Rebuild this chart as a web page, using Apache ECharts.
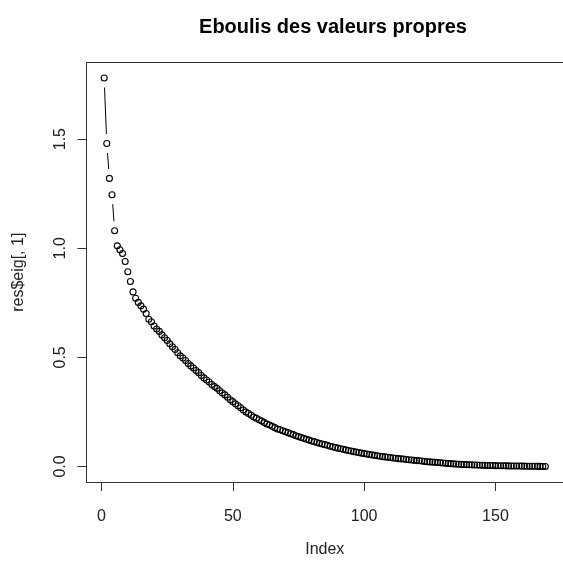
<!DOCTYPE html>
<html>
<head>
<meta charset="utf-8">
<script src="https://cdn.jsdelivr.net/npm/echarts@6/dist/echarts.min.js"></script>
<style>html,body{margin:0;padding:0;background:#fff;}#c{width:563px;height:563px;}</style>
</head>
<body>
<div id="c"></div>
<script>
// Eigenvalues (res$eig[, 1]), in index order 1..169
const eigenValues = [
  1.780, 1.480, 1.320, 1.245, 1.080, 1.011, 0.993, 0.976, 0.939, 0.892,
  0.848, 0.800, 0.771, 0.752, 0.736, 0.721, 0.701, 0.675, 0.663, 0.644,
  0.630, 0.619, 0.603, 0.590, 0.577, 0.562, 0.549, 0.536, 0.521, 0.507,
  0.497, 0.486, 0.472, 0.461, 0.451, 0.440, 0.430, 0.417, 0.406, 0.396,
  0.387, 0.376, 0.366, 0.358, 0.347, 0.337, 0.328, 0.317, 0.306, 0.297,
  0.287, 0.278, 0.269, 0.259, 0.250, 0.243, 0.235, 0.227, 0.221, 0.214,
  0.208, 0.201, 0.195, 0.190, 0.184, 0.178, 0.172, 0.168, 0.164, 0.159,
  0.155, 0.150, 0.146, 0.141, 0.137, 0.133, 0.129, 0.125, 0.121, 0.117,
  0.114, 0.110, 0.106, 0.103, 0.100, 0.097, 0.093, 0.090, 0.087, 0.084,
  0.081, 0.079, 0.076, 0.073, 0.071, 0.068, 0.066, 0.064, 0.061, 0.059,
  0.057, 0.055, 0.053, 0.051, 0.049, 0.047, 0.045, 0.044, 0.042, 0.041,
  0.039, 0.038, 0.036, 0.035, 0.034, 0.032, 0.031, 0.030, 0.028, 0.027,
  0.026, 0.025, 0.023, 0.022, 0.021, 0.020, 0.019, 0.018, 0.017, 0.016,
  0.015, 0.014, 0.013, 0.012, 0.011, 0.010, 0.0095, 0.009, 0.0085, 0.008,
  0.0075, 0.007, 0.0065, 0.006, 0.0056, 0.0052, 0.0048, 0.0045, 0.0042, 0.0039,
  0.0036, 0.0033, 0.0031, 0.0029, 0.0027, 0.0025, 0.0023, 0.0021, 0.0019, 0.0017,
  0.0015, 0.0013, 0.0011, 0.0009, 0.0008, 0.0006, 0.0004, 0.0002, 0.0001
];
const xTicks = [0, 50, 100, 150];
const yTicks = [0.0, 0.5, 1.0, 1.5];
const yTickLabels = ['0.0', '0.5', '1.0', '1.5'];
const titleText = 'Eboulis des valeurs propres';
const xName = 'Index';
const yName = 'res$eig[, 1]';

const n = eigenValues.length;
const points = eigenValues.map((v, i) => [i + 1, v]);
const segs = [];
for (let i = 0; i < n - 1; i++) segs.push([i + 1, eigenValues[i], i + 2, eigenValues[i + 1]]);

// R-style axis ranges (4% extension)
const xr = n - 1;
const xMin = 1 - 0.04 * xr, xMax = n + 0.04 * xr;
const yLo = Math.min(...eigenValues), yHi = Math.max(...eigenValues);
const yr = yHi - yLo;
const yMin = yLo - 0.04 * yr, yMax = yHi + 0.04 * yr;

const GAP = 9.5;
const FONT = 'Liberation Sans, Arial, sans-serif';
const BOX = '#333';
const chart = echarts.init(document.getElementById('c'), null, {renderer: 'canvas'});
chart.setOption({
  animation: false,
  backgroundColor: '#fff',
  title: {
    text: titleText, left: 328, top: 12, textAlign: 'center',
    textStyle: {fontFamily: FONT, fontSize: 20, fontWeight: 'bold', color: '#000'}
  },
  grid: {left: 86.5, top: 62.5, width: 483, height: 421.5, show: false},
  xAxis: [{
    type: 'value', min: xMin, max: xMax, position: 'bottom',
    name: xName, nameLocation: 'middle', nameGap: 60,
    nameTextStyle: {fontFamily: FONT, fontSize: 16, color: '#222'},
    axisLine: {show: true, onZero: false, lineStyle: {color: BOX, width: 1}},
    splitLine: {show: false},
    axisTick: {show: true, inside: false, length: 9, customValues: xTicks, lineStyle: {color: BOX, width: 1}},
    axisLabel: {customValues: xTicks, margin: 27, fontFamily: FONT, fontSize: 16, color: '#222'}
  }, {
    type: 'value', min: xMin, max: xMax, position: 'top',
    axisLine: {show: true, onZero: false, lineStyle: {color: BOX, width: 1}},
    axisTick: {show: false}, axisLabel: {show: false}, splitLine: {show: false}
  }],
  yAxis: {
    type: 'value', min: yMin, max: yMax, position: 'left',
    name: yName, nameLocation: 'middle', nameGap: 60, nameRotate: 90,
    nameTextStyle: {fontFamily: FONT, fontSize: 16, color: '#222'},
    axisLine: {show: true, onZero: false, lineStyle: {color: BOX, width: 1}},
    splitLine: {show: false},
    axisTick: {show: true, inside: false, length: 9, customValues: yTicks, lineStyle: {color: BOX, width: 1}},
    axisLabel: {customValues: yTicks, rotate: 90, margin: 18, fontFamily: FONT, fontSize: 16, color: '#222',
      formatter: v => { const k = yTicks.findIndex(t => Math.abs(t - v) < 1e-9); return k >= 0 ? yTickLabels[k] : ''; }}
  },
  series: [
    {
      type: 'custom', data: segs, encode: {x: [0, 2], y: [1, 3]}, silent: true,
      renderItem: function (params, api) {
        const p1 = api.coord([api.value(0), api.value(1)]);
        const p2 = api.coord([api.value(2), api.value(3)]);
        const dx = p2[0] - p1[0], dy = p2[1] - p1[1];
        const L = Math.sqrt(dx * dx + dy * dy);
        if (L <= 2 * GAP) return null;
        const ux = dx / L, uy = dy / L;
        return {
          type: 'line',
          shape: {x1: p1[0] + ux * GAP, y1: p1[1] + uy * GAP, x2: p2[0] - ux * GAP, y2: p2[1] - uy * GAP},
          style: {stroke: '#000', lineWidth: 1}
        };
      }
    },
    {
      type: 'scatter', data: points, symbol: 'circle', symbolSize: 6,
      itemStyle: {color: 'rgba(0,0,0,0)', borderColor: '#000', borderWidth: 1.1, opacity: 1}
    }
  ]
});
</script>
</body>
</html>
